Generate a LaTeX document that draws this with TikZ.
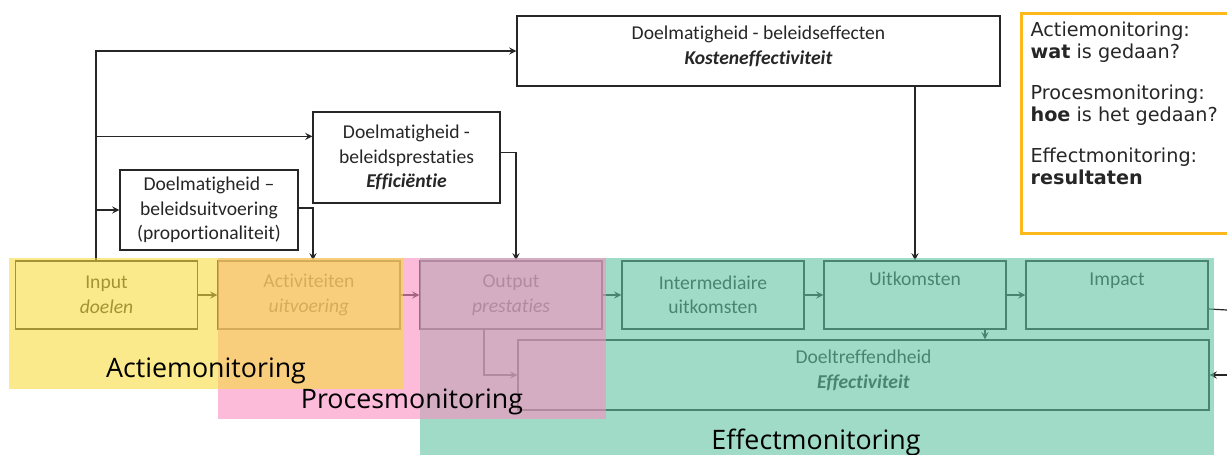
\documentclass[tikz,border=0pt]{standalone}
\usepackage{fontspec}
\setmainfont{Carlito}[Ligatures=NoCommon]
\newfontfamily\bigfont{Open Sans}
\newfontfamily\legfont{DejaVu Sans}
\usetikzlibrary{calc}
\definecolor{bandyellow}{RGB}{247,220,63}
\definecolor{bandpink}{RGB}{248,142,192}
\definecolor{bandteal}{RGB}{97,195,163}
\definecolor{legorange}{RGB}{252,184,28}
\tikzset{
    stap/.style={draw, align=center, minimum width=91pt, minimum height=34pt, inner sep=1pt, font=\fontsize{9.8}{12.25}\selectfont},
    band/.style={fill opacity=0.6},
    monlabel/.style={text=black, font=\bigfont\fontsize{13.4}{16}\selectfont},
}

\begin{document}
\begin{tikzpicture}[>=stealth, x=0.5pt, y=-0.5pt, line width=0.6pt, black!85]
            \useasboundingbox (0,0) rectangle (1227,455);
            \node[stap, minimum width=241.5pt, minimum height=35pt, text depth=6pt] (eff) at (758.5,51) {Doelmatigheid - beleidseffecten\\\textbf{\textit{Kosteneffectiviteit}}};
            \node[stap, minimum width=93.5pt, minimum height=45.5pt] (effi) at (406.5,157.5) {Doelmatigheid -\\beleidsprestaties\\\textbf{\textit{Efficiëntie}}};
            \node[stap, minimum width=89pt, minimum height=40pt] (prop) at (209,210) {Doelmatigheid --\\beleidsuitvoering\\(proportionaliteit)};
            \node[stap] (input) at (106.5,295) {Input\\\textit{doelen}};
            \node[stap] (act) at (309,295) {Activiteiten\\\textit{uitvoering}};
            \node[stap] (outp) at (511,295) {Output\\\textit{prestaties}};
            \node[stap] (inter) at (713,295) {Intermediaire\\uitkomsten};
            \node[stap] (uitk) at (915,295) {Uitkomsten\\\strut};
            \node[stap] (impact) at (1117,295) {Impact\\\strut};
            \node[stap, minimum width=345.5pt, minimum height=35pt, text depth=6pt] (doel) at (863.5,375) {Doeltreffendheid\\\textbf{\textit{Effectiviteit}}};
            \node[anchor=north west, align=left, inner sep=0pt, font=\legfont\fontsize{9.6}{11}\selectfont] (leg) at (1030,21) {Actiemonitoring:\\\textbf{wat} is gedaan?\\[9.5pt]Procesmonitoring:\\\textbf{hoe} is het gedaan?\\[9.5pt]Effectmonitoring:\\\textbf{resultaten}};
            \draw[legorange, line width=1.5pt] (1021,13) rectangle (1240,233);
            \coordinate (spine) at (96,51);
            \coordinate (drop) at ($(uitk.south)+(70,0)$);
            \coordinate (loopa) at (1227,310);
            \coordinate (loopb) at (1227,375);
            \draw[->] (input.north -| spine) |- (eff.west);
            \draw[->] ($(spine |- effi.north)+(0,25)$) -- ($(effi.north west)+(0,25)$);
            \draw[->] (spine |- prop.west) -- (prop.west);
            \draw[->] ($(prop.east)+(0,-2)$) -| ($(act.north)+(4,0)$);
            \draw[->] ($(effi.east)+(0,-5)$) -| ($(outp.north)+(5,0)$);
            \draw[->] (eff.south -| uitk.north) -- (uitk.north);
            \path[->]
                (input) edge (act)
                (act) edge (outp)
                (outp) edge (inter)
                (inter) edge (uitk)
                (uitk) edge (impact)
            ;
            \draw[->] (drop) -- (drop |- doel.north);
            \draw[->] ($(outp.south)+(-27,0)$) |- (doel.west);
            \draw ($(impact.east)+(0,14)$) -- (loopa);
            \draw[->] (loopb) -- (doel.east);
            \fill[bandteal, band] (420,258) rectangle (1214,455);
            \fill[bandpink, band] (218,258) rectangle (606,419);
            \fill[bandyellow, band] (9,258) rectangle (403,389);
            \node[monlabel] (actm) at (206,371) {Actiemonitoring};
            \node[monlabel] (procm) at (412,402) {Procesmonitoring};
            \node[monlabel] (effm) at (816,442) {Effectmonitoring};
        \end{tikzpicture}
\end{document}
